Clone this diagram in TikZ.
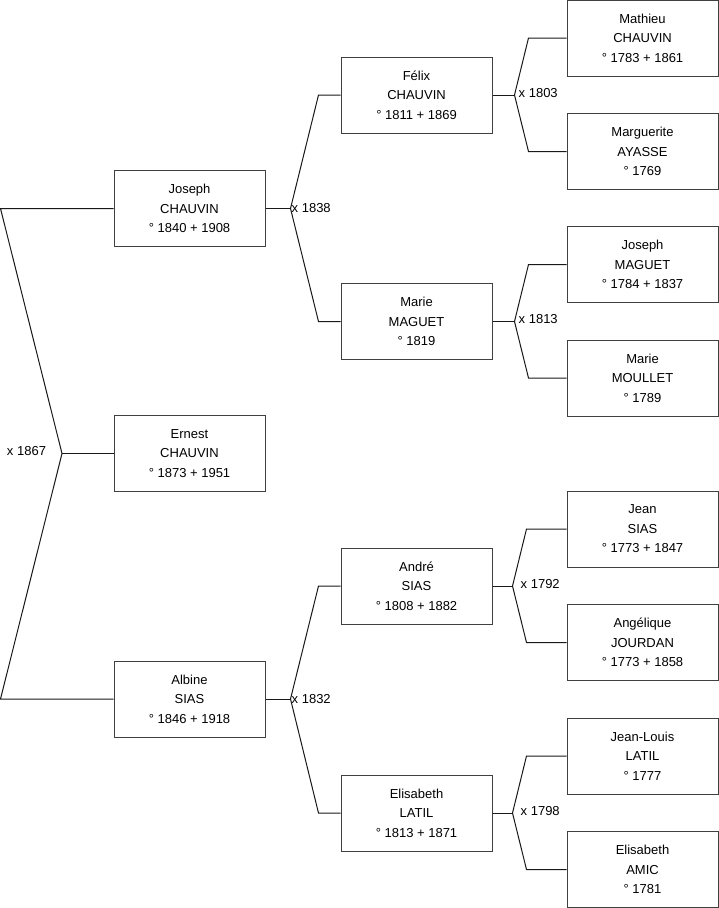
\documentclass[tikz,border=0pt]{standalone}
\usepackage{fontspec}
\setmainfont{Liberation Sans}
\usepackage{tikz}
\usetikzlibrary{positioning}

\begin{document}
\begin{tikzpicture}[x=1pt,y=-1pt]
  \tikzset{
    person/.style={draw=black!75, fill=white, line width=1pt, minimum width=151pt, minimum height=76pt,
      inner sep=0pt, align=center, font=\fontsize{13}{19.5}\selectfont},
    link/.style={black!90, line width=1pt},
    wed/.style={font=\fontsize{13}{15}\selectfont, inner sep=1pt}
  }
  \useasboundingbox (0,0) rectangle (719,908);

  % Generation 1
  \node[person] (ernest) at (189.5,453.5) {Ernest\\CHAUVIN\\° 1873 + 1951};
  \node[person] (joseph) at (189.5,208.5) {Joseph\\CHAUVIN\\° 1840 + 1908};
  \node[person] (albine) at (189.5,699) {Albine\\SIAS\\° 1846 + 1918};

  % Generation 2
  \node[person] (felix)  at (416.5,95)    {Félix\\CHAUVIN\\° 1811 + 1869};
  \node[person] (marieM) at (416.5,321.5) {Marie\\MAGUET\\° 1819};
  \node[person] (andre)  at (416.5,586)   {André\\SIAS\\° 1808 + 1882};
  \node[person] (elisL)  at (416.5,813)   {Elisabeth\\LATIL\\° 1813 + 1871};

  % Generation 3
  \node[person] (mathieu)  at (642.5,38)    {Mathieu\\CHAUVIN\\° 1783 + 1861};
  \node[person] (margue)   at (642.5,151.5) {Marguerite\\AYASSE\\° 1769};
  \node[person] (josephM)  at (642.5,264.5) {Joseph\\MAGUET\\° 1784 + 1837};
  \node[person] (marieMo)  at (642.5,378)   {Marie\\MOULLET\\° 1789};
  \node[person] (jean)     at (642.5,529)   {Jean\\SIAS\\° 1773 + 1847};
  \node[person] (angel)    at (642.5,642.5) {Angélique\\JOURDAN\\° 1773 + 1858};
  \node[person] (jeanL)    at (642.5,756)   {Jean-Louis\\LATIL\\° 1777};
  \node[person] (elisA)    at (642.5,869.5) {Elisabeth\\AMIC\\° 1781};

  % Ernest: Joseph x Albine
  \coordinate (mE) at (62,453.5);
  \draw[link] (joseph.west) -- (0.5,208.5) -- (mE) -- (0.5,699) -- (albine.west);
  \draw[link] (mE) -- (ernest.west);
  \node[wed] (wE) at (26.5,451) {x 1867};

  % Joseph: Félix x Marie
  \coordinate (mJ) at ([xshift=25pt]joseph.east);
  \draw[link] (joseph.east) -- (mJ);
  \draw[link] (mJ) -- ([xshift=-22pt]felix.west) -- (felix.west);
  \draw[link] (mJ) -- ([xshift=-22pt]marieM.west) -- (marieM.west);
  \node[wed, anchor=west] (wJ) at (mJ) {x 1838};

  % Albine: André x Elisabeth
  \coordinate (mA) at ([xshift=25pt]albine.east);
  \draw[link] (albine.east) -- (mA);
  \draw[link] (mA) -- ([xshift=-22pt]andre.west) -- (andre.west);
  \draw[link] (mA) -- ([xshift=-22pt]elisL.west) -- (elisL.west);
  \node[wed, anchor=west] (wA) at (mA) {x 1832};

  % Félix: Mathieu x Marguerite
  \coordinate (mF) at ([xshift=22pt]felix.east);
  \draw[link] (felix.east) -- (mF);
  \draw[link] (mF) -- ([xshift=-38pt]mathieu.west) -- (mathieu.west);
  \draw[link] (mF) -- ([xshift=-38pt]margue.west) -- (margue.west);
  \node[wed, anchor=west] (wF) at ([xshift=3pt,yshift=2pt]mF) {x 1803};

  % Marie: Joseph x Marie
  \coordinate (mM) at ([xshift=22pt]marieM.east);
  \draw[link] (marieM.east) -- (mM);
  \draw[link] (mM) -- ([xshift=-38pt]josephM.west) -- (josephM.west);
  \draw[link] (mM) -- ([xshift=-38pt]marieMo.west) -- (marieMo.west);
  \node[wed, anchor=west] (wM) at ([xshift=3pt,yshift=2pt]mM) {x 1813};

  % André: Jean x Angélique
  \coordinate (mAn) at ([xshift=20pt]andre.east);
  \draw[link] (andre.east) -- (mAn);
  \draw[link] (mAn) -- ([xshift=-40pt]jean.west) -- (jean.west);
  \draw[link] (mAn) -- ([xshift=-40pt]angel.west) -- (angel.west);
  \node[wed, anchor=west] (wAn) at ([xshift=7pt,yshift=2pt]mAn) {x 1792};

  % Elisabeth: Jean-Louis x Elisabeth
  \coordinate (mEl) at ([xshift=20pt]elisL.east);
  \draw[link] (elisL.east) -- (mEl);
  \draw[link] (mEl) -- ([xshift=-40pt]jeanL.west) -- (jeanL.west);
  \draw[link] (mEl) -- ([xshift=-40pt]elisA.west) -- (elisA.west);
  \node[wed, anchor=west] (wEl) at ([xshift=7pt,yshift=2pt]mEl) {x 1798};
\end{tikzpicture}
\end{document}
